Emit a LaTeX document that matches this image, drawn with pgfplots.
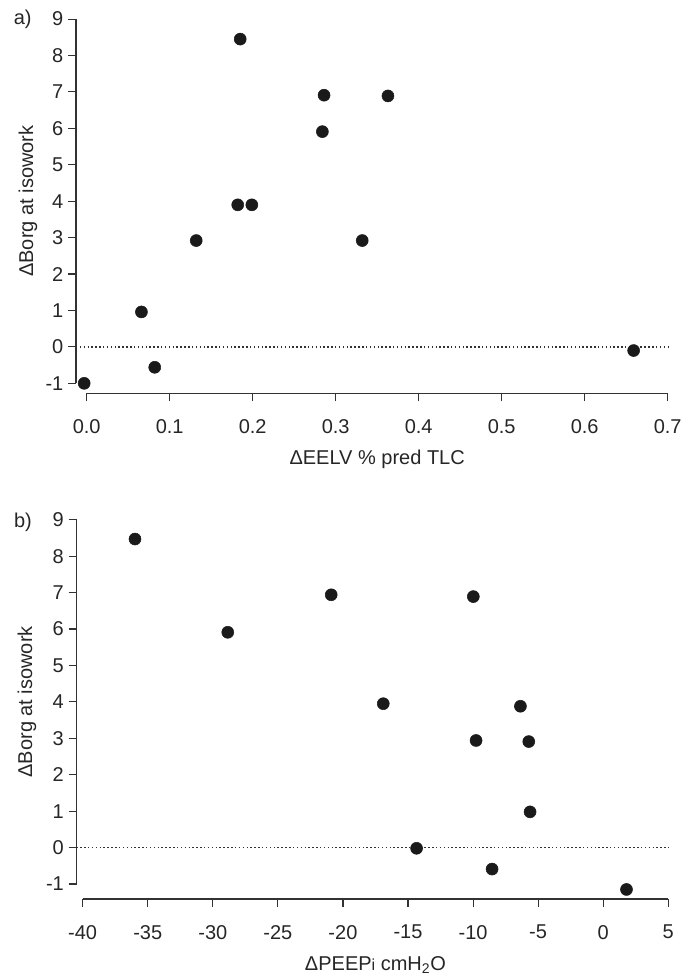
\documentclass[border=0pt]{standalone}
\usepackage{fontspec}
\setmainfont{Liberation Sans}
\usepackage{pgfplots}
\pgfplotsset{compat=1.18}
\definecolor{clrDot}{RGB}{26,26,26}
\definecolor{clrAxis}{RGB}{50,50,50}

\pgfplotsset{
  borg/.style={
    scale only axis,
    axis lines=left,
    axis line style={clrAxis,line width=0.85pt,-},
    tick style={clrAxis,line width=0.85pt},
    tick align=outside,
    major tick length=6pt,
    ymin=-1, ymax=9, ytick={-1,0,...,9},
    ticklabel style={font=\fontsize{15}{17}\selectfont,text=black!85},
    xticklabel style={yshift=-10pt},
    label style={font=\fontsize{15}{17}\selectfont,text=black!85},
    /pgf/number format/assume math mode=true,
    clip=false,
    ylabel={ΔBorg at isowork},
  },
  zeroline/.style={clrAxis,line width=0.9pt,dash pattern=on 1.1pt off 1.8pt,forget plot},
  dots/.style={only marks,mark=*,mark size=4.5pt,clrDot},
}

\begin{document}
\begin{tikzpicture}
\useasboundingbox (-62pt,-71.25pt) rectangle (457pt,663pt);

% a) top panel
\begin{axis}[borg,
  at={(3pt,375.5pt)}, anchor=south west,
  width=435.75pt, height=273.2pt,
  xmin=0, xmax=0.7, xtick={0,0.1,...,0.7},
  axis x line shift=7.5pt, axis y line shift=8pt,
  xticklabel style={/pgf/number format/.cd,fixed,fixed zerofill,precision=1},
  xlabel={ΔEELV \% pred TLC},
  xlabel style={at={(axis description cs:0.5,-0.209)},anchor=center},
  ylabel style={at={(axis description cs:-0.101,0.5)},anchor=center},
]
\addplot[zeroline] coordinates {(-0.0129,0) (0.7,0)};
\addplot[dots] coordinates {
  (-0.003,-1.00) (0.066,0.96) (0.082,-0.56) (0.132,2.92)
  (0.182,3.90) (0.199,3.90) (0.185,8.45) (0.284,5.91)
  (0.286,6.91) (0.363,6.89) (0.332,2.92) (0.659,-0.10)
};
\node[font=\fontsize{15}{17}\selectfont,text=black!85,anchor=center]
  at (axis description cs:-0.11,0.998) {a)};
\end{axis}

% b) bottom panel
\begin{axis}[borg,
  at={(0pt,0pt)}, anchor=south west,
  width=439.2pt, height=273.2pt,
  xmin=-40, xmax=5, xtick={-40,-35,...,5},
  axis x line shift=11.25pt, axis y line shift=4.6pt,
  xlabel={ΔPEEP{\fontsize{12}{12}\selectfont i} cmH\textsubscript{2}O},
  xlabel style={at={(axis description cs:0.5,-0.222)},anchor=center},
  ylabel style={at={(axis description cs:-0.095,0.5)},anchor=center},
]
\addplot[zeroline] coordinates {(-40.48,0) (5,0)};
\addplot[dots] coordinates {
  (-35.98,8.47) (-28.85,5.91) (-20.90,6.94) (-9.98,6.89)
  (-16.90,3.95) (-6.36,3.88) (-9.77,2.94) (-5.72,2.91)
  (-5.62,0.98) (-14.34,-0.02) (-8.54,-0.59) (1.79,-1.15)
};
\node[font=\fontsize{15}{17}\selectfont,text=black!85,anchor=center]
  at (axis description cs:-0.102,0.994) {b)};
\end{axis}
\end{tikzpicture}
\end{document}
